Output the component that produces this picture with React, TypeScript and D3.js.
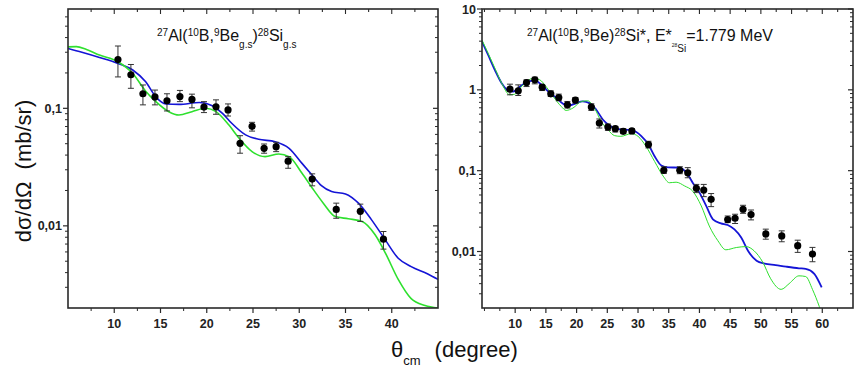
import React from 'react';
import * as d3 from 'd3';

type Pt = [number, number];

// ---- left panel: 27Al(10B,9Be g.s)28Si g.s ----
const leftTheta = [10.4, 11.8, 13.1, 14.4, 15.7, 17.1, 18.4, 19.7, 21.0, 22.3, 23.6, 24.9, 26.2, 27.5, 28.8, 31.4, 34.0, 36.6, 39.1];
const leftSigma = [0.26, 0.193, 0.133, 0.125, 0.116, 0.126, 0.119, 0.1025, 0.103, 0.097, 0.0504, 0.0703, 0.0457, 0.0472, 0.0355, 0.025, 0.0138, 0.0133, 0.0077];
const leftErrHi = [0.339, 0.236, 0.158, 0.143, 0.133, 0.142, 0.132, 0.114, 0.118, 0.109, 0.0585, 0.076, 0.0497, 0.0514, 0.0388, 0.0277, 0.0156, 0.0153, 0.00895];
const leftErrLo = [0.185, 0.148, 0.107, 0.107, 0.095, 0.114, 0.101, 0.092, 0.089, 0.086, 0.0415, 0.064, 0.0415, 0.0428, 0.0309, 0.0219, 0.0116, 0.0109, 0.00634];

const leftBlue: Pt[] = [
  [5, 0.323], [6.5, 0.3], [8.4, 0.271], [10.4, 0.241], [12.0, 0.212], [13.4, 0.168], [14.5, 0.125],
  [15.6, 0.109], [17.0, 0.108], [19.2, 0.112], [20.6, 0.105], [21.7, 0.0907], [22.7, 0.0746],
  [24.2, 0.0594], [25.6, 0.0545], [27.4, 0.052], [28.9, 0.0457], [30.3, 0.034], [31.4, 0.027],
  [32.4, 0.022], [33.5, 0.0196], [35.0, 0.0187], [36.4, 0.0156], [37.8, 0.0113], [39.3, 0.0076],
  [40.7, 0.0053], [42.1, 0.0045], [43.9, 0.0039], [45, 0.0035],
];
const leftGreen: Pt[] = [
  [5, 0.333], [5.9, 0.335], [7, 0.316], [8.4, 0.284], [10.4, 0.249], [12.0, 0.198], [13.4, 0.14],
  [14.5, 0.114], [15.9, 0.0936], [17.0, 0.0878], [18.4, 0.0936], [19.9, 0.1], [21.0, 0.0936],
  [22.4, 0.072], [23.5, 0.0556], [24.9, 0.0428], [26.3, 0.0388], [27.8, 0.0409], [28.9, 0.0388],
  [30.3, 0.028], [31.4, 0.021], [32.6, 0.0156], [33.9, 0.012], [35.3, 0.0115], [36.8, 0.0109],
  [38.2, 0.0084], [39.3, 0.0059], [40.7, 0.0035], [42.1, 0.0024], [43.6, 0.0021], [45, 0.002],
];

// ---- right panel: 27Al(10B,9Be)28Si*, 1.779 MeV ----
const rightTheta = [9.15, 10.5, 11.85, 13.2, 14.4, 15.8, 17.1, 18.5, 19.8, 22.4, 23.7, 25.1, 26.3, 27.6, 29.0, 31.7, 34.2, 36.8, 38.1, 39.5, 40.7, 41.9, 44.6, 45.8, 47.1, 48.4, 50.8, 53.4, 56.0, 58.4];
const rightSigma = [1.02, 0.972, 1.23, 1.33, 1.08, 0.893, 0.804, 0.653, 0.746, 0.612, 0.389, 0.347, 0.331, 0.307, 0.31, 0.21, 0.101, 0.101, 0.094, 0.0604, 0.0575, 0.0442, 0.0248, 0.0258, 0.0333, 0.0286, 0.0165, 0.0156, 0.0118, 0.0093];
const rightErrHi = [1.175, 1.152, 1.328, 1.434, 1.152, 0.972, 0.885, 0.718, 0.804, 0.672, 0.436, 0.378, 0.353, 0.331, 0.331, 0.231, 0.112, 0.112, 0.109, 0.0676, 0.0676, 0.0521, 0.0275, 0.0289, 0.0373, 0.0326, 0.0189, 0.018, 0.0138, 0.01124];
const rightErrLo = [0.868, 0.851, 1.098, 1.186, 0.98, 0.827, 0.732, 0.595, 0.686, 0.556, 0.337, 0.315, 0.301, 0.287, 0.287, 0.191, 0.0924, 0.0917, 0.0817, 0.0535, 0.0477, 0.0359, 0.0228, 0.0222, 0.0297, 0.0246, 0.0142, 0.0132, 0.00975, 0.00747];

const rightBlue: Pt[] = [
  [4.6, 3.94], [5.6, 2.7], [6.7, 1.76], [7.8, 1.21], [8.9, 0.972], [9.7, 0.953], [10.8, 1.1],
  [12.1, 1.27], [13.2, 1.3], [14.3, 1.15], [15.4, 0.953], [16.7, 0.79], [17.8, 0.672], [18.6, 0.635],
  [19.7, 0.672], [21.0, 0.718], [22.1, 0.686], [23.2, 0.567], [24.3, 0.427], [25.4, 0.36], [26.4, 0.331],
  [27.8, 0.321], [29.1, 0.315], [30.5, 0.27], [31.7, 0.21], [32.7, 0.151], [33.8, 0.116], [34.9, 0.11],
  [36.8, 0.109], [37.9, 0.094], [38.9, 0.071], [40.0, 0.0535], [41.1, 0.0366], [42.2, 0.025],
  [43.5, 0.0223], [44.6, 0.0213], [45.7, 0.0188], [46.8, 0.0149], [47.9, 0.0102], [49.3, 0.0077],
  [50.6, 0.0071], [52.4, 0.0068], [54.1, 0.0065], [56.2, 0.0062], [57.3, 0.0061], [58.7, 0.0053], [59.9, 0.0036],
];
const rightGreen: Pt[] = [
  [4.6, 4.13], [5.6, 2.83], [6.7, 1.85], [7.8, 1.21], [9.1, 0.87], [9.9, 0.88], [10.8, 1.05],
  [11.9, 1.27], [12.9, 1.39], [14.0, 1.33], [15.1, 1.08], [16.2, 0.827], [17.5, 0.623], [18.3, 0.556],
  [19.4, 0.595], [20.8, 0.718], [21.8, 0.732], [22.9, 0.595], [24.0, 0.407], [25.1, 0.321], [26.2, 0.271],
  [27.2, 0.266], [28.9, 0.287], [30.0, 0.266], [31.3, 0.2], [32.7, 0.13], [34.1, 0.0856], [35.1, 0.0709],
  [36.2, 0.072], [37.6, 0.0646], [38.9, 0.0559], [40.3, 0.0366], [41.6, 0.0207], [43.0, 0.0136],
  [44.3, 0.0105], [46.0, 0.0112], [47.6, 0.0115], [48.9, 0.0102], [50.3, 0.0074], [51.6, 0.0046],
  [53.3, 0.0034], [54.6, 0.004], [56.2, 0.005], [57.3, 0.0049], [58.4, 0.0034], [59.5, 0.0021], [59.7, 0.0019],
];

const leftXTicks = [10, 15, 20, 25, 30, 35, 40];
const rightXTicks = [10, 15, 20, 25, 30, 35, 40, 45, 50, 55, 60];
const leftYTicks = [0.1, 0.01];
const leftYLabels = ['0,1', '0,01'];
const rightYTicks = [10, 1, 0.1, 0.01];
const rightYLabels = ['10', '1', '0,1', '0,01'];

const FONT = "Arial, 'Liberation Sans', Helvetica, sans-serif";
const AXIS = '#2a2a2a';
const BLUE = '#1414d6';
const GREEN = '#2ee02e';

function Panel(props: any) {
  const { id, left, right, top, bottom, xDomain, yDomain, xTicks, yTicks, yLabels,
    theta, sigma, lo, hi, blue, green, blueWidth, greenWidth, children } = props;
  const x = d3.scaleLinear().domain(xDomain).range([left, right]);
  const y = d3.scaleLog().domain(yDomain).range([bottom, top]);
  const line = d3.line<Pt>().x(d => x(d[0])).y(d => y(d[1])).curve(d3.curveMonotoneX);

  // minor ticks
  const xMinor = d3.range(5, xDomain[1], 2.5).filter(v => v > xDomain[0] + 0.1 && !xTicks.includes(v));
  const xAll = d3.range(5, xDomain[1], 2.5).filter(v => v > xDomain[0] + 0.1);
  const yMinor: number[] = [];
  for (let k = -3; k <= 1; k++) {
    for (let m = 2; m <= 9; m++) {
      const v = m * Math.pow(10, k);
      if (v > yDomain[0] * 1.001 && v < yDomain[1]) yMinor.push(v);
    }
  }

  return (
    <g>
      <defs>
        <clipPath id={id}>
          <rect x={left} y={top} width={right - left} height={bottom - top} />
        </clipPath>
      </defs>
      <g clipPath={`url(#${id})`}>
        <path d={line(blue) || ''} fill="none" stroke={BLUE} strokeWidth={blueWidth} />
        <path d={line(green) || ''} fill="none" stroke={GREEN} strokeWidth={greenWidth} />
      </g>
      {theta.map((t: number, i: number) => (
        <g key={i}>
          <line x1={x(t)} x2={x(t)} y1={y(hi[i])} y2={y(lo[i])} stroke="#333" strokeWidth={1} />
          <line x1={x(t) - 3} x2={x(t) + 3} y1={y(hi[i])} y2={y(hi[i])} stroke="#333" strokeWidth={1} />
          <line x1={x(t) - 3} x2={x(t) + 3} y1={y(lo[i])} y2={y(lo[i])} stroke="#333" strokeWidth={1} />
          <circle cx={x(t)} cy={y(sigma[i])} r={3.6} fill="#000" />
        </g>
      ))}
      <rect x={left} y={top} width={right - left} height={bottom - top} fill="none" stroke={AXIS} strokeWidth={1.6} />
      {/* bottom axis */}
      {xTicks.map((t: number) => (
        <g key={'xb' + t}>
          <line x1={x(t)} x2={x(t)} y1={bottom} y2={bottom + 5} stroke={AXIS} strokeWidth={1.2} />
          <text x={x(t)} y={bottom + 20} textAnchor="middle" fontFamily={FONT} fontWeight="bold" fontSize={12.5} fill="#222">{t}</text>
        </g>
      ))}
      {xMinor.map((t: number) => (
        <line key={'xm' + t} x1={x(t)} x2={x(t)} y1={bottom} y2={bottom + 3} stroke={AXIS} strokeWidth={1} />
      ))}
      {/* top axis, ticks inward */}
      {xAll.map((t: number) => (
        <line key={'xt' + t} x1={x(t)} x2={x(t)} y1={top} y2={top + (xTicks.includes(t) ? 5 : 3)} stroke={AXIS} strokeWidth={1.1} />
      ))}
      {/* left axis */}
      {yTicks.map((t: number, i: number) => (
        <g key={'yl' + t}>
          <line x1={left - 5} x2={left} y1={y(t)} y2={y(t)} stroke={AXIS} strokeWidth={1.2} />
          <line x1={right - 5} x2={right} y1={y(t)} y2={y(t)} stroke={AXIS} strokeWidth={1.2} />
          <text x={left - 6} y={y(t) + 4.5} textAnchor="end" fontFamily={FONT} fontWeight="bold" fontSize={12.5} fill="#222">{yLabels[i]}</text>
        </g>
      ))}
      {yMinor.map((t: number) => (
        <g key={'ym' + t}>
          <line x1={left - 3} x2={left} y1={y(t)} y2={y(t)} stroke={AXIS} strokeWidth={1} />
          <line x1={right - 3} x2={right} y1={y(t)} y2={y(t)} stroke={AXIS} strokeWidth={1} />
        </g>
      ))}
      {children}
    </g>
  );
}

export default function App() {
  return (
    <svg width={854} height={371} style={{ position: 'absolute', left: 0, top: 0, background: '#fff' }}>
      <rect width={854} height={371} fill="#fff" />
      <Panel id="clipL" left={68} right={438} top={9} bottom={308} xDomain={[5, 45]} yDomain={[0.002, 0.7]}
        xTicks={leftXTicks} yTicks={leftYTicks} yLabels={leftYLabels}
        theta={leftTheta} sigma={leftSigma} lo={leftErrLo} hi={leftErrHi}
        blue={leftBlue} green={leftGreen} blueWidth={1.6} greenWidth={1.6}>
        <text x={157} y={41} fontFamily={FONT} fontSize={16} fill="#111">
          <tspan fontSize={10} dy={-5}>27</tspan><tspan dy={5}>Al(</tspan>
          <tspan fontSize={10} dy={-5}>10</tspan><tspan dy={5}>B,</tspan>
          <tspan fontSize={10} dy={-5}>9</tspan><tspan dy={5}>Be</tspan>
          <tspan fontSize={10} dy={7}>g.s</tspan><tspan dy={-7}>)</tspan>
          <tspan fontSize={10} dy={-5}>28</tspan><tspan dy={5}>Si</tspan>
          <tspan fontSize={10} dy={7}>g.s</tspan>
        </text>
      </Panel>
      <Panel id="clipR" left={482} right={853} top={9} bottom={308} xDomain={[4.6, 65]} yDomain={[0.002, 10]}
        xTicks={rightXTicks} yTicks={rightYTicks} yLabels={rightYLabels}
        theta={rightTheta} sigma={rightSigma} lo={rightErrLo} hi={rightErrHi}
        blue={rightBlue} green={rightGreen} blueWidth={1.8} greenWidth={1}>
        <text x={527} y={41} fontFamily={FONT} fontSize={16} fill="#111">
          <tspan fontSize={10} dy={-5}>27</tspan><tspan dy={5}>Al(</tspan>
          <tspan fontSize={10} dy={-5}>10</tspan><tspan dy={5}>B,</tspan>
          <tspan fontSize={10} dy={-5}>9</tspan><tspan dy={5}>Be)</tspan>
          <tspan fontSize={10} dy={-5}>28</tspan><tspan dy={5}>Si*, E*</tspan>
          <tspan fontSize={5} dy={6}>28</tspan><tspan fontSize={10} dy={5}>Si</tspan>
          <tspan dy={-11}>=1.779 MeV</tspan>
        </text>
      </Panel>
      <text transform="translate(31,171) rotate(-90)" textAnchor="middle" fontFamily={FONT} fontSize={22} fill="#111">
        {'dσ/dΩ\u00a0\u00a0(mb/sr)'}
      </text>
      <text x={391} y={357} fontFamily={FONT} fontSize={22} fill="#111">
        θ<tspan fontSize={13} dy={8}>cm</tspan><tspan dy={-8} dx={14}>(degree)</tspan>
      </text>
    </svg>
  );
}
